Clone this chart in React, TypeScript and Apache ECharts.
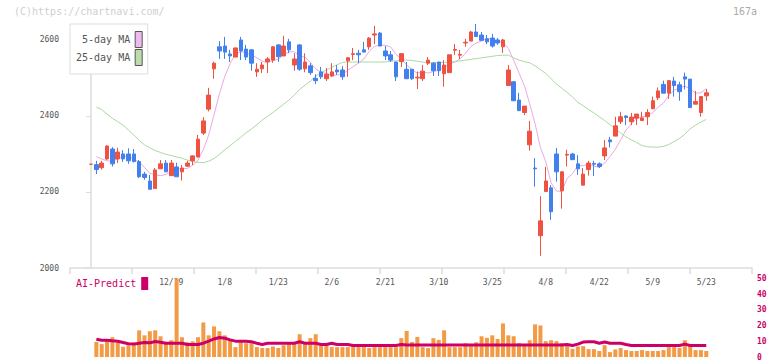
import React, { useEffect, useRef } from "react";
import * as echarts from "echarts";

const dates = [
  "11/28","11/29","12/2","12/3","12/4","12/5","12/6","12/9","12/10","12/11",
  "12/12","12/13","12/16","12/17","12/18","12/19","12/20","12/23","12/24","12/25",
  "12/26","12/27","12/30","1/6","1/7","1/8","1/9","1/10","1/14","1/15",
  "1/16","1/17","1/20","1/21","1/22","1/23","1/24","1/27","1/28","1/29",
  "1/30","1/31","2/3","2/4","2/5","2/6","2/7","2/10","2/12","2/13",
  "2/14","2/17","2/18","2/19","2/20","2/21","2/25","2/26","2/27","2/28",
  "3/3","3/4","3/5","3/6","3/7","3/10","3/11","3/12","3/13","3/14",
  "3/17","3/18","3/19","3/21","3/24","3/25","3/26","3/27","3/28","3/31",
  "4/1","4/2","4/3","4/4","4/7","4/8","4/9","4/10","4/11","4/14",
  "4/15","4/16","4/17","4/18","4/21","4/22","4/23","4/24","4/25","4/28",
  "4/30","5/1","5/2","5/7","5/8","5/9","5/12","5/13","5/14","5/15",
  "5/16","5/19","5/20","5/21","5/22","5/23"
];

const opens = [
  2273,2272,2264,2287,2313,2287,2300,2300,2300,2280,
  2247,2229,2209,2261,2276,2243,2266,2253,2268,2282,
  2292,2355,2418,2524,2582,2584,2563,2555,2600,2576,
  2574,2516,2524,2543,2547,2587,2558,2595,2534,2587,
  2524,2532,2499,2516,2498,2505,2521,2521,2545,2562,
  2565,2574,2582,2613,2618,2571,2561,2542,2543,2523,
  2523,2500,2498,2539,2539,2542,2511,2514,2573,2560,
  2592,2597,2621,2613,2603,2605,2600,2582,2480,2490,
  2442,2409,2324,2263,2085,2201,2211,2300,2203,2297,
  2300,2274,2218,2259,2275,2274,2295,2337,2347,2385,
  2400,2385,2394,2388,2398,2419,2448,2483,2460,2492,
  2482,2503,2497,2431,2409,2453
];
const closes = [
  2273,2259,2276,2321,2274,2305,2287,2282,2280,2240,
  2238,2207,2258,2274,2253,2276,2240,2263,2276,2295,
  2339,2387,2455,2539,2571,2568,2558,2579,2571,2555,
  2539,2523,2534,2550,2582,2556,2584,2574,2550,2523,
  2542,2514,2493,2503,2510,2516,2516,2503,2553,2564,
  2561,2568,2605,2616,2584,2558,2547,2503,2564,2498,
  2498,2502,2518,2547,2519,2519,2534,2561,2575,2562,
  2594,2621,2609,2599,2595,2584,2592,2600,2521,2440,
  2414,2426,2360,2261,2124,2229,2148,2253,2253,2299,
  2285,2261,2247,2276,2273,2267,2316,2332,2374,2398,
  2396,2397,2405,2395,2409,2440,2466,2460,2493,2480,
  2464,2497,2422,2438,2451,2461
];
const lows = [
  2273,2247,2259,2284,2267,2276,2279,2274,2278,2237,
  2232,2207,2209,2261,2253,2243,2240,2230,2266,2271,
  2292,2350,2412,2498,2550,2550,2542,2555,2547,2547,
  2519,2503,2513,2513,2540,2542,2558,2565,2519,2519,
  2515,2508,2484,2497,2492,2503,2508,2495,2503,2547,
  2539,2568,2574,2589,2584,2547,2542,2492,2529,2498,
  2495,2471,2492,2534,2505,2505,2477,2514,2561,2550,
  2582,2597,2609,2599,2589,2580,2587,2566,2480,2440,
  2414,2402,2309,2214,2032,2201,2127,2227,2156,2267,
  2285,2245,2218,2243,2242,2263,2284,2317,2347,2379,
  2376,2376,2376,2388,2376,2418,2442,2460,2445,2451,
  2440,2470,2422,2431,2398,2440
];
const highs = [
  2274,2282,2282,2323,2318,2316,2310,2315,2313,2284,
  2253,2245,2263,2284,2284,2284,2277,2271,2282,2297,
  2350,2397,2474,2543,2597,2608,2574,2580,2608,2587,
  2576,2539,2542,2555,2584,2589,2611,2603,2565,2589,
  2565,2539,2510,2529,2526,2539,2534,2531,2555,2579,
  2574,2595,2607,2637,2621,2584,2571,2542,2565,2542,
  2523,2517,2534,2555,2542,2542,2547,2561,2589,2574,
  2603,2624,2642,2621,2613,2616,2605,2603,2534,2492,
  2461,2426,2387,2289,2189,2266,2218,2316,2255,2311,
  2303,2297,2263,2282,2282,2278,2337,2345,2398,2411,
  2401,2408,2405,2411,2418,2451,2475,2493,2493,2503,
  2490,2514,2497,2466,2451,2471
];

const ma5 = [
  null,2293,2287,2282,2281,2287,2293,2294,2286,2279,
  2265,2249,2245,2243,2246,2254,2260,2261,2262,2270,
  2283,2312,2350,2403,2458,2504,2538,2563,2569,2566,
  2560,2553,2544,2540,2546,2549,2561,2569,2569,2557,
  2555,2541,2524,2515,2512,2507,2508,2510,2520,2530,
  2539,2550,2570,2583,2587,2586,2582,2562,2551,2534,
  2522,2513,2516,2513,2517,2521,2527,2536,2542,2550,
  2565,2583,2592,2597,2604,2602,2596,2594,2578,2547,
  2513,2480,2432,2380,2317,2280,2224,2203,2201,2236,
  2248,2270,2269,2274,2268,2265,2276,2293,2312,2337,
  2363,2379,2394,2398,2400,2409,2423,2434,2454,2468,
  2473,2479,2471,2460,2461,2472
];
const ma25 = [
  null,2423,2417,2405,2394,2385,2376,2363,2350,2336,
  2324,2316,2309,2304,2299,2296,2292,2289,2284,2280,
  2278,2277,2281,2288,2299,2311,2322,2333,2344,2356,
  2366,2377,2389,2399,2409,2420,2431,2442,2455,2470,
  2481,2492,2505,2514,2521,2528,2535,2541,2542,2542,
  2542,2542,2542,2542,2542,2542,2544,2545,2547,2547,
  2546,2544,2542,2540,2540,2541,2541,2542,2543,2545,
  2547,2549,2551,2553,2555,2557,2559,2560,2560,2553,
  2547,2543,2540,2532,2522,2512,2498,2484,2473,2462,
  2450,2436,2427,2417,2408,2398,2388,2377,2367,2355,
  2345,2337,2330,2322,2319,2318,2318,2320,2325,2333,
  2341,2352,2366,2376,2384,2391
];

const volumes = [
  null,9.6,8.2,10.9,12.6,9.4,6.5,7.5,9.4,17,
  13.8,16.4,17,13.2,9,10.7,50,12.6,9.4,10,
  12.6,22,13.8,19.5,16.4,13.8,11.3,6.3,9.4,8.8,
  8.8,6.3,5.7,5.7,6.7,5.7,7.5,8.2,8.4,14.5,
  8.2,12,14.5,7.5,7.5,6.3,6.3,6.3,6.3,6.9,
  6.3,6.3,5.7,6.3,6.3,6.3,6.3,6.3,12,16.6,
  9.6,12.8,6.3,5.7,12,10.9,17,6.3,6.3,6.3,
  8.8,6.9,9.4,13.2,12.2,13.8,11.5,21.4,13.8,13.2,
  8.8,7.5,10.7,20.8,20.1,10.1,10.7,10.1,8.8,7.5,
  5.2,6.7,6.9,5,5,3.8,7.5,3.1,4.8,5.7,
  4.4,3.8,3.8,4.4,3.8,3.8,3.8,4.4,6.3,6.3,
  5.7,10.7,7.5,4.4,4.4,3.8
];
const aiPredict = [
  null,11.3,10.7,10.7,10.3,10.0,9.2,8.4,8.2,8.8,
  9.2,9.0,9.9,9.4,8.8,8.8,8.8,8.8,8.0,8.0,
  8.0,8.8,10.1,11.5,12.4,12.0,10.9,10.1,10.1,10.1,
  9.7,8.8,8.0,8.8,8.8,8.8,8.8,8.8,8.8,9.7,
  8.8,8.8,8.8,8.0,8.0,8.8,8.0,8.0,8.0,7.3,
  7.3,7.3,7.3,7.3,7.3,7.3,7.3,7.3,8.0,7.6,
  7.6,7.6,7.6,7.6,7.6,7.6,7.6,7.6,7.6,7.6,
  7.6,7.6,7.6,7.6,7.6,7.6,7.6,7.6,7.6,7.6,
  7.6,7.6,7.6,7.6,7.6,7.6,7.6,7.6,7.6,8.0,
  7.3,8.2,9.5,9.7,9.7,8.8,9.5,8.8,8.8,8.8,
  8.0,7.3,7.3,7.3,7.3,7.3,7.3,7.3,7.3,7.3,
  7.3,8.2,7.3,7.3,7.3,7.3
];

const priceTicks = [2000, 2200, 2400, 2600];
const labelDates = ["12/19","1/8","1/23","2/6","2/21","3/10","3/25","4/8","4/22","5/9","5/23"];

const FONT = "'DejaVu Sans Mono', monospace";
const RED = "#ef5240";
const BLUE = "#4280ee";
const PINK = "#e6aae6";
const GREEN = "#acd8a2";
const MAGENTA = "#cc0066";
const ORANGE = "#f39a45";

export default function App() {
  const ref = useRef<HTMLDivElement>(null);
  useEffect(() => {
    if (!ref.current) return;
    const chart = echarts.init(ref.current, null, { renderer: "svg" });
    const X_MIN = -3.925;
    const X_MAX = 123.55;
    const tickPositions = Array.from({ length: 12 }, (_, k) => X_MIN + (k * (X_MAX - X_MIN)) / 11);
    const labelIdx = labelDates.map((d) => dates.indexOf(d));
    const candles = dates.map((_, i) => [i, opens[i], closes[i], lows[i], highs[i]]);
    const pairs = (arr: (number | null)[]) =>
      arr.map((v, i) => [i, v]).filter((p) => p[1] != null);

    chart.setOption({
      animation: false,
      backgroundColor: "#ffffff",
      title: [
        {
          text: "(C)https://chartnavi.com/",
          left: 14,
          top: 6,
          padding: 0,
          textStyle: { fontFamily: FONT, fontSize: 10, fontWeight: "normal", color: "#cfcfcf" },
        },
        {
          text: "167a",
          right: 15,
          top: 6,
          padding: 0,
          textStyle: { fontFamily: FONT, fontSize: 10, fontWeight: "normal", color: "#aaaaaa" },
        },
      ],
      legend: [
        {
          orient: "vertical",
          left: 70,
          top: 24,
          align: "right",
          itemWidth: 7,
          itemHeight: 16,
          itemGap: 1,
          padding: [7, 5, 8, 6],
          backgroundColor: "#ffffff",
          borderColor: "#dddddd",
          borderWidth: 1,
          selectedMode: false,
          textStyle: { fontFamily: FONT, fontSize: 10, color: "#555555" },
          data: [
            { name: "5-day MA", icon: "rect", itemStyle: { color: "#eebbee", borderColor: "#555555", borderWidth: 1 } },
            { name: "25-day MA", icon: "rect", itemStyle: { color: "#bbddaa", borderColor: "#555555", borderWidth: 1 } },
          ],
        },
        {
          left: 76,
          top: 277,
          align: "right",
          itemWidth: 7,
          itemHeight: 13,
          padding: 0,
          selectedMode: false,
          textStyle: { fontFamily: FONT, fontSize: 10, color: MAGENTA },
          data: [{ name: "AI-Predict", icon: "rect", itemStyle: { color: MAGENTA, borderWidth: 0 } }],
        },
      ],
      grid: [
        { left: 70, right: 20, top: 24, bottom: 93 },
        { left: 70, right: 20, top: 278.5, bottom: 3 },
      ],
      xAxis: [
        {
          type: "value",
          gridIndex: 0,
          min: X_MIN,
          max: X_MAX,
          axisLine: { show: true, lineStyle: { color: "#dddddd", width: 1.5 } },
          axisTick: { show: true, length: 6, customValues: tickPositions, lineStyle: { color: "#dddddd", width: 1.5 } },
          axisLabel: {
            show: true,
            customValues: labelIdx,
            formatter: (v: number) => dates[Math.round(v)] ?? "",
            fontFamily: FONT,
            fontSize: 8,
            color: "#555555",
            margin: 10,
          },
          splitLine: { show: false },
        },
        {
          type: "value",
          gridIndex: 1,
          min: X_MIN,
          max: X_MAX,
          show: false,
        },
      ],
      yAxis: [
        {
          type: "value",
          gridIndex: 0,
          min: 2000,
          max: 2642,
          axisLine: { show: true, lineStyle: { color: "#dddddd", width: 1.5 } },
          axisTick: { show: true, length: 5, customValues: priceTicks, lineStyle: { color: "#dddddd" } },
          axisLabel: {
            customValues: priceTicks,
            formatter: (v: number) => String(Math.round(v)),
            fontFamily: FONT,
            fontSize: 8,
            color: "#555555",
            margin: 11,
          },
          splitLine: { show: false },
        },
        {
          type: "value",
          gridIndex: 1,
          position: "right",
          min: 0,
          max: 50,
          interval: 10,
          axisLine: { show: false },
          axisTick: { show: false },
          splitLine: { show: false },
          axisLabel: {
            formatter: (v: number) => String(Math.round(v)),
            fontFamily: FONT,
            fontSize: 8,
            fontWeight: "bold",
            color: MAGENTA,
            margin: 5,
          },
        },
      ],
      series: [
        {
          name: "5-day MA",
          type: "line",
          xAxisIndex: 0,
          yAxisIndex: 0,
          data: pairs(ma5),
          showSymbol: false,
          lineStyle: { color: PINK, width: 1 },
          itemStyle: { color: PINK },
          z: 1,
        },
        {
          name: "25-day MA",
          type: "line",
          xAxisIndex: 0,
          yAxisIndex: 0,
          data: pairs(ma25),
          showSymbol: false,
          lineStyle: { color: GREEN, width: 1 },
          itemStyle: { color: GREEN },
          z: 1,
        },
        {
          name: "price",
          type: "candlestick",
          xAxisIndex: 0,
          yAxisIndex: 0,
          data: candles,
          encode: { x: 0, y: [1, 2, 3, 4] },
          barWidth: 4,
          itemStyle: {
            color: RED,
            color0: BLUE,
            borderColor: RED,
            borderColor0: BLUE,
            borderWidth: 1,
          },
          z: 2,
        },
        {
          name: "volume",
          type: "bar",
          xAxisIndex: 1,
          yAxisIndex: 1,
          data: pairs(volumes),
          barWidth: 4,
          itemStyle: { color: ORANGE },
          z: 1,
        },
        {
          name: "AI-Predict",
          type: "line",
          xAxisIndex: 1,
          yAxisIndex: 1,
          data: pairs(aiPredict),
          showSymbol: false,
          lineStyle: { color: MAGENTA, width: 3 },
          itemStyle: { color: MAGENTA },
          z: 2,
        },
      ],
    });
    return () => chart.dispose();
  }, []);

  return (
    <div
      ref={ref}
      style={{ position: "fixed", left: 0, top: 0, width: 772, height: 361, background: "#fff" }}
    />
  );
}
